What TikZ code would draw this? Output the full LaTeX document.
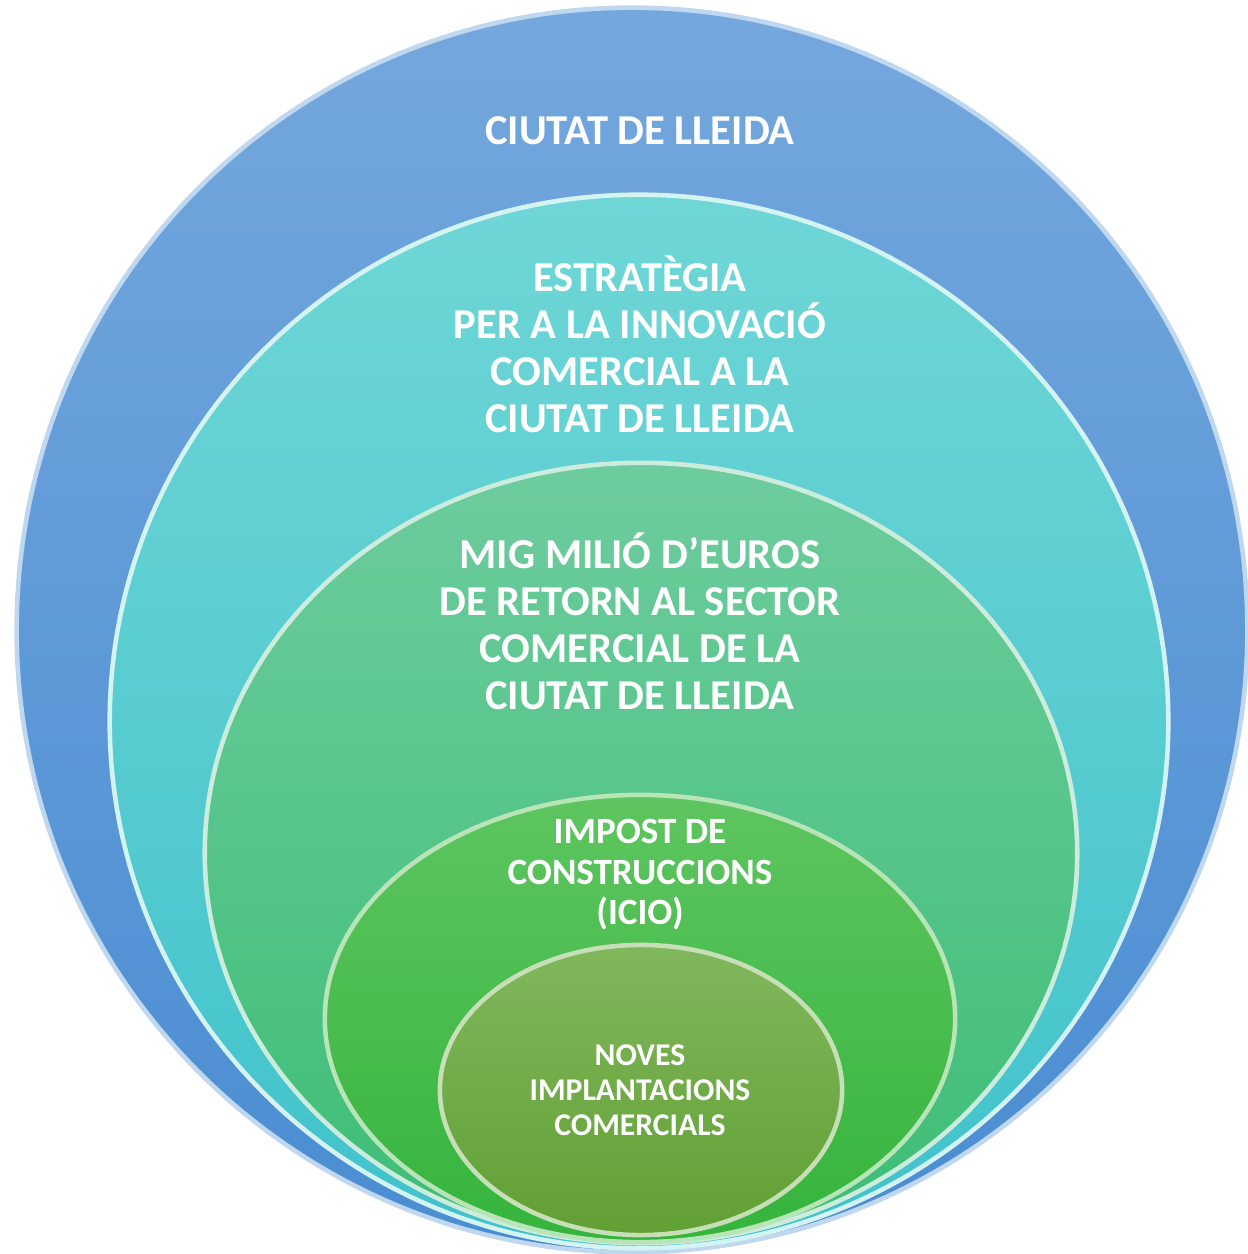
\documentclass[tikz,border=0pt]{standalone}
\usepackage{fontspec}
\setmainfont{Carlito}
\usetikzlibrary{shapes.geometric}
\definecolor{bA}{HTML}{74A7DD}
\definecolor{bB}{HTML}{4A8DD2}
\definecolor{cA}{HTML}{6FD6D6}
\definecolor{cB}{HTML}{40C2CB}
\definecolor{gA}{HTML}{6DCC9D}
\definecolor{gB}{HTML}{3DBD76}
\definecolor{hA}{HTML}{5EC560}
\definecolor{hB}{HTML}{35B43C}
\definecolor{oA}{HTML}{80B75C}
\definecolor{oB}{HTML}{61A034}
\tikzset{
  ring/.style={ellipse, inner sep=0pt, line width=1.3pt},
  lbl/.style={text=white, align=center, font=\bfseries\fontsize{12.1}{13.35}\selectfont},
}
\begin{document}
\begin{tikzpicture}[x=0.01cm,y=-0.01cm]
\useasboundingbox (0,0) rectangle (1248,1254);
\node[ring, top color=bA, bottom color=bB, draw=bA!45!white, minimum width=12.30cm, minimum height=12.44cm] (e1) at (632,630) {};
\node[ring, top color=cA, bottom color=cB, draw=cA!30!white, minimum width=10.58cm, minimum height=10.53cm] (e2) at (639,721.5) {};
\node[ring, top color=gA, bottom color=gB, draw=gA!35!white, minimum width=8.72cm, minimum height=7.80cm] (e3) at (641,853) {};
\node[ring, top color=hA, bottom color=hB, draw=hA!45!white, minimum width=6.30cm, minimum height=4.47cm] (e4) at (640,1018.5) {};
\node[ring, top color=oA, bottom color=oB, draw=oA!45!white, minimum width=4.02cm, minimum height=2.90cm] (e5) at (641,1090) {};
\node[lbl] (t1) at (640,131) {CIUTAT DE LLEIDA};
\node[lbl] (t2) at (640,344) {ESTRATÈGIA\\PER A LA INNOVACIÓ\\COMERCIAL A LA\\CIUTAT DE LLEIDA};
\node[lbl] (t3) at (640,621) {MIG MILIÓ D’EUROS\\DE RETORN AL SECTOR\\COMERCIAL DE LA\\CIUTAT DE LLEIDA};
\node[lbl, font=\bfseries\fontsize{10.55}{11.5}\selectfont] (t4) at (640,875) {IMPOST DE\\CONSTRUCCIONS\\(ICIO)};
\node[lbl, font=\bfseries\fontsize{9.0}{10}\selectfont] (t5) at (640,1090) {NOVES\\IMPLANTACIONS\\COMERCIALS};
\end{tikzpicture}
\end{document}
